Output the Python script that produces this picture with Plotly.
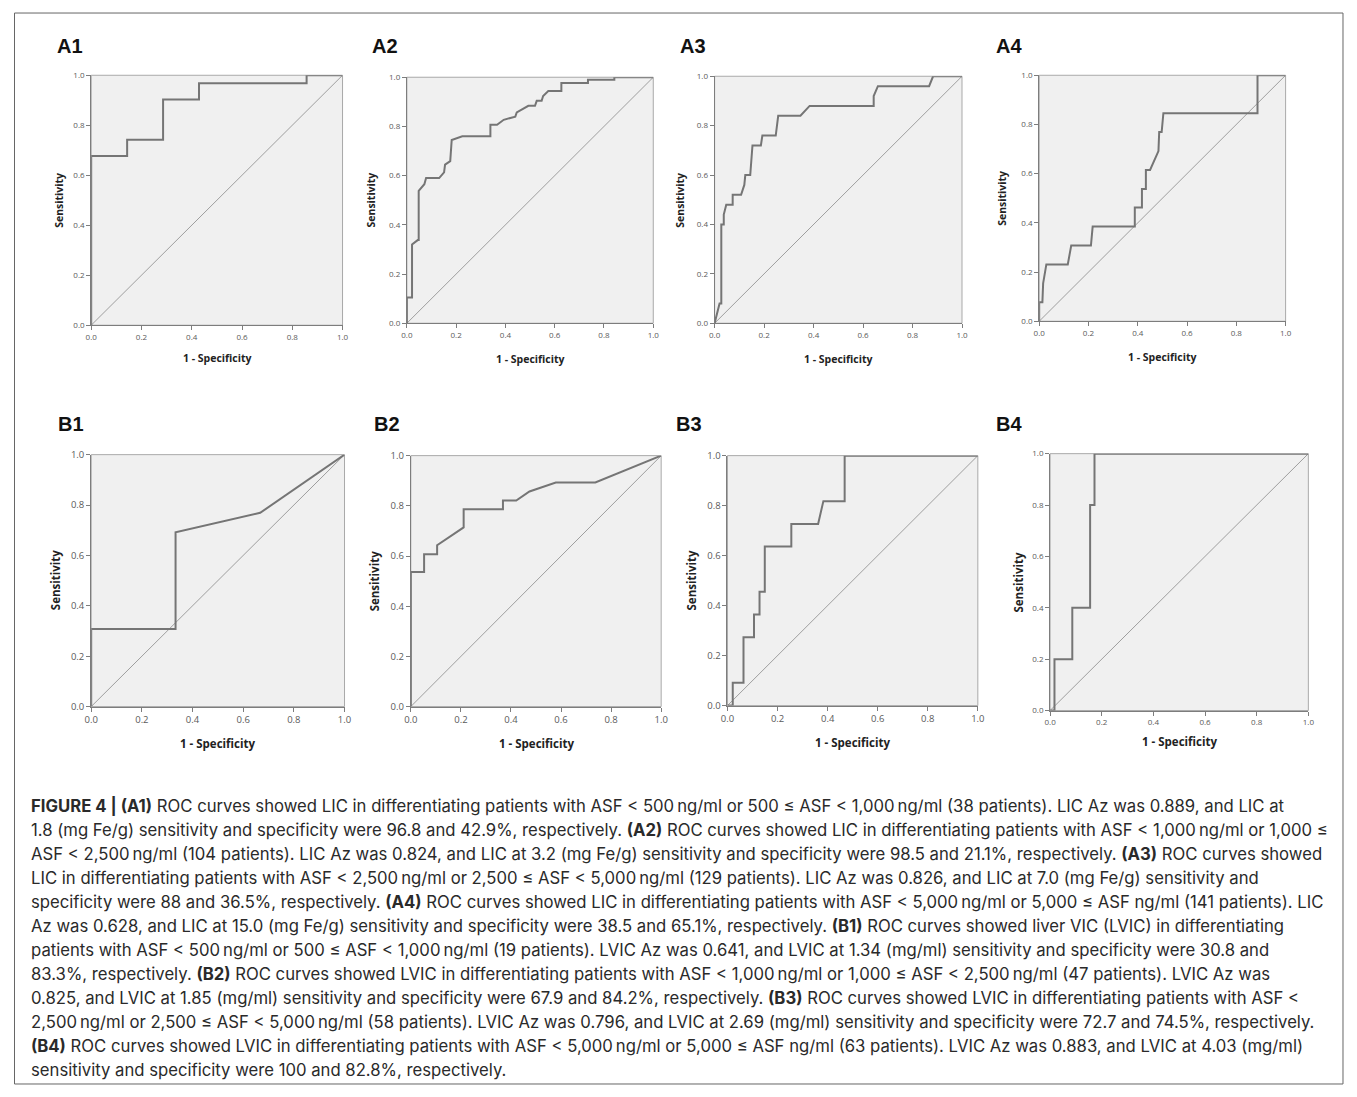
import plotly.graph_objects as go

PAGE_W, PAGE_H = 1357, 1097
BODY_MARGIN = 8
W, H = PAGE_W - 2 * BODY_MARGIN, PAGE_H - 2 * BODY_MARGIN

# ---------------- data ----------------
panel_names = ["A1", "A2", "A3", "A4", "B1", "B2", "B3", "B4"]

A1_fpr = [0, 0, 0.143, 0.143, 0.286, 0.286, 0.429, 0.429, 0.857, 0.857, 1.0]
A1_tpr = [0, 0.677, 0.677, 0.742, 0.742, 0.903, 0.903, 0.968, 0.968, 1.0, 1.0]

A2_fpr = [0, 0, 0.021, 0.021, 0.044, 0.048, 0.048, 0.071, 0.078, 0.131, 0.151, 0.155,
          0.176, 0.182, 0.225, 0.339, 0.339, 0.366, 0.393, 0.44, 0.446, 0.493, 0.52,
          0.527, 0.547, 0.553, 0.574, 0.627, 0.627, 0.735, 0.735, 0.842, 0.842, 1.0]
A2_tpr = [0, 0.105, 0.105, 0.32, 0.338, 0.338, 0.538, 0.565, 0.59, 0.59, 0.613, 0.645,
          0.659, 0.745, 0.76, 0.76, 0.807, 0.807, 0.827, 0.84, 0.857, 0.884, 0.884,
          0.904, 0.904, 0.924, 0.944, 0.944, 0.977, 0.977, 0.99, 0.99, 1.0, 1.0]

A3_fpr = [0, 0.013, 0.02, 0.027, 0.027, 0.037, 0.037, 0.047, 0.073, 0.073, 0.107, 0.12,
          0.124, 0.144, 0.148, 0.153, 0.187, 0.193, 0.247, 0.257, 0.347, 0.384, 0.643,
          0.643, 0.66, 0.867, 0.883, 1.0]
A3_tpr = [0, 0.06, 0.08, 0.08, 0.4, 0.4, 0.44, 0.48, 0.48, 0.52, 0.52, 0.56,
          0.6, 0.6, 0.66, 0.72, 0.72, 0.76, 0.76, 0.84, 0.84, 0.88, 0.88,
          0.92, 0.96, 0.96, 1.0, 1.0]

A4_fpr = [0, 0, 0.013, 0.016, 0.029, 0.116, 0.13, 0.21, 0.217, 0.388, 0.388, 0.417,
          0.417, 0.433, 0.433, 0.45, 0.484, 0.487, 0.497, 0.504, 0.886, 0.886, 1.0]
A4_tpr = [0, 0.077, 0.077, 0.154, 0.231, 0.231, 0.308, 0.308, 0.385, 0.385, 0.462, 0.462,
          0.538, 0.538, 0.615, 0.615, 0.692, 0.769, 0.769, 0.846, 0.846, 1.0, 1.0]

B1_fpr = [0, 0, 0.333, 0.333, 0.667, 1.0]
B1_tpr = [0, 0.308, 0.308, 0.692, 0.769, 1.0]

B2_fpr = [0, 0, 0.053, 0.053, 0.105, 0.105, 0.211, 0.211, 0.368, 0.368, 0.421, 0.474,
          0.579, 0.737, 1.0]
B2_tpr = [0, 0.536, 0.536, 0.607, 0.607, 0.643, 0.714, 0.786, 0.786, 0.821, 0.821, 0.857,
          0.893, 0.893, 1.0]

B3_fpr = [0, 0.021, 0.021, 0.064, 0.064, 0.106, 0.106, 0.128, 0.128, 0.149, 0.149, 0.255,
          0.255, 0.362, 0.383, 0.468, 0.468, 1.0]
B3_tpr = [0, 0.0, 0.091, 0.091, 0.273, 0.273, 0.364, 0.364, 0.455, 0.455, 0.636, 0.636,
          0.727, 0.727, 0.818, 0.818, 1.0, 1.0]

B4_fpr = [0, 0.017, 0.017, 0.086, 0.086, 0.155, 0.155, 0.172, 0.172, 1.0]
B4_tpr = [0, 0.0, 0.2, 0.2, 0.4, 0.4, 0.8, 0.8, 1.0, 1.0]

curves_fpr = [A1_fpr, A2_fpr, A3_fpr, A4_fpr, B1_fpr, B2_fpr, B3_fpr, B4_fpr]
curves_tpr = [A1_tpr, A2_tpr, A3_tpr, A4_tpr, B1_tpr, B2_tpr, B3_tpr, B4_tpr]

tick_vals = [0.0, 0.2, 0.4, 0.6, 0.8, 1.0]
tick_text = ["0.0", "0.2", "0.4", "0.6", "0.8", "1.0"]
y_title = "Sensitivity"
x_title = "1 - Specificity"

caption_lines = [
    "<b>FIGURE 4 | (A1)</b> ROC curves showed LIC in differentiating patients with ASF &lt; 500\u2009ng/ml or 500 \u2264 ASF &lt; 1,000\u2009ng/ml (38 patients). LIC Az was 0.889, and LIC at",
    "1.8 (mg Fe/g) sensitivity and specificity were 96.8 and 42.9%, respectively. <b>(A2)</b> ROC curves showed LIC in differentiating patients with ASF &lt; 1,000\u2009ng/ml or 1,000 \u2264",
    "ASF &lt; 2,500\u2009ng/ml (104 patients). LIC Az was 0.824, and LIC at 3.2 (mg Fe/g) sensitivity and specificity were 98.5 and 21.1%, respectively. <b>(A3)</b> ROC curves showed",
    "LIC in differentiating patients with ASF &lt; 2,500\u2009ng/ml or 2,500 \u2264 ASF &lt; 5,000\u2009ng/ml (129 patients). LIC Az was 0.826, and LIC at 7.0 (mg Fe/g) sensitivity and",
    "specificity were 88 and 36.5%, respectively. <b>(A4)</b> ROC curves showed LIC in differentiating patients with ASF &lt; 5,000\u2009ng/ml or 5,000 \u2264 ASF ng/ml (141 patients). LIC",
    "Az was 0.628, and LIC at 15.0 (mg Fe/g) sensitivity and specificity were 38.5 and 65.1%, respectively. <b>(B1)</b> ROC curves showed liver VIC (LVIC) in differentiating",
    "patients with ASF &lt; 500\u2009ng/ml or 500 \u2264 ASF &lt; 1,000\u2009ng/ml (19 patients). LVIC Az was 0.641, and LVIC at 1.34 (mg/ml) sensitivity and specificity were 30.8 and",
    "83.3%, respectively. <b>(B2)</b> ROC curves showed LVIC in differentiating patients with ASF &lt; 1,000\u2009ng/ml or 1,000 \u2264 ASF &lt; 2,500\u2009ng/ml (47 patients). LVIC Az was",
    "0.825, and LVIC at 1.85 (mg/ml) sensitivity and specificity were 67.9 and 84.2%, respectively. <b>(B3)</b> ROC curves showed LVIC in differentiating patients with ASF &lt;",
    "2,500\u2009ng/ml or 2,500 \u2264 ASF &lt; 5,000\u2009ng/ml (58 patients). LVIC Az was 0.796, and LVIC at 2.69 (mg/ml) sensitivity and specificity were 72.7 and 74.5%, respectively.",
    "<b>(B4)</b> ROC curves showed LVIC in differentiating patients with ASF &lt; 5,000\u2009ng/ml or 5,000 \u2264 ASF ng/ml (63 patients). LVIC Az was 0.883, and LVIC at 4.03 (mg/ml)",
    "sensitivity and specificity were 100 and 82.8%, respectively.",
]

# ---------------- layout geometry (page pixels) ----------------
boxes = [  # left, top, right, bottom of each plot area
    (85, 69, 339, 322), (404, 71, 653, 320), (715, 70, 965, 320), (1043, 69, 1292, 318),
    (85, 453, 341, 708), (408, 454, 661, 708), (728, 454, 981, 707), (1054, 452, 1315, 712),
]
label_pos = [(48, 39), (367, 39), (678, 39), (997, 39), (49, 422), (369, 422), (674, 422), (997, 422)]
ytitle_x = [53, 368, 680, 1006, 49, 371, 692, 1022]
xtitle_y = [355, 356, 356, 354, 745, 745, 744, 743]
tick_sizes = [8, 8, 8, 8, 9.5, 9.5, 9.5, 8]


def px_x(p):
    return (p - BODY_MARGIN) / W


def px_y(p):
    return 1 - (p - BODY_MARGIN) / H


CURVE = "#757575"
DIAG = "#9e9e9e"
BG = "#f0f0f0"
FRAME = "#a9a9a9"
AXIS = "#7d7d7d"

fig = go.Figure()
annotations = []
shapes = []

for i, name in enumerate(panel_names):
    l, t, r, b = boxes[i]
    k = "" if i == 0 else str(i + 1)
    xa, ya = "x" + k, "y" + k
    fig.add_trace(go.Scatter(x=[0, 1], y=[0, 1], mode="lines", xaxis=xa, yaxis=ya,
                             line=dict(color=DIAG, width=1), showlegend=False, hoverinfo="skip"))
    fig.add_trace(go.Scatter(x=curves_fpr[i], y=curves_tpr[i], mode="lines", xaxis=xa, yaxis=ya,
                             line=dict(color=CURVE, width=2), showlegend=False))
    tf = dict(family="Open Sans, Liberation Sans, sans-serif", size=tick_sizes[i], color="#5a5a5a")
    common = dict(range=[0, 1], showgrid=False, zeroline=False, showline=True, linecolor=AXIS,
                  linewidth=1, ticks="outside", ticklen=4, tickcolor=AXIS, tickwidth=1,
                  tickvals=tick_vals, ticktext=tick_text, tickfont=tf, fixedrange=True)
    fig.layout["xaxis" + k] = dict(domain=[px_x(l), px_x(r)], anchor=ya, **common)
    fig.layout["yaxis" + k] = dict(domain=[px_y(b), px_y(t)], anchor=xa, **common)
    shapes.append(dict(type="rect", xref="paper", yref="paper", x0=px_x(l), x1=px_x(r),
                       y0=px_y(b), y1=px_y(t), fillcolor=BG, line=dict(color=FRAME, width=1),
                       layer="below"))
    lx, ly = label_pos[i]
    annotations.append(dict(text="<b>%s</b>" % name, x=px_x(lx), y=px_y(ly), xref="paper",
                            yref="paper", xanchor="left", yanchor="middle", showarrow=False,
                            font=dict(family="Liberation Sans, Arial, sans-serif", size=20,
                                      color="#111111")))
    title_size = 10.5 if i < 4 else 11.5
    annotations.append(dict(text="<b>%s</b>" % y_title, x=px_x(ytitle_x[i]),
                            y=px_y((t + b) / 2), xref="paper", yref="paper", textangle=-90,
                            xanchor="center", yanchor="middle", showarrow=False,
                            font=dict(family="Open Sans, sans-serif", size=title_size,
                                      color="#222222")))
    annotations.append(dict(text="<b>%s</b>" % x_title, x=px_x((l + r) / 2),
                            y=px_y(xtitle_y[i]), xref="paper", yref="paper",
                            xanchor="center", yanchor="middle", showarrow=False,
                            font=dict(family="Open Sans, sans-serif", size=title_size,
                                      color="#222222")))

# caption
cap_y0, cap_dy = 809, 24.3
for j, line in enumerate(caption_lines):
    annotations.append(dict(text=line, x=px_x(22), y=px_y(cap_y0 + j * cap_dy), xref="paper",
                            yref="paper", xanchor="left", yanchor="middle", showarrow=False,
                            font=dict(family="Inter, Liberation Sans, sans-serif", size=16.7,
                                      color="#2a2a2a")))

# outer border
shapes.append(dict(type="rect", xref="paper", yref="paper", x0=px_x(7.5), x1=px_x(1350),
                   y0=px_y(1090), y1=px_y(6), line=dict(color="#666666", width=1),
                   fillcolor="rgba(0,0,0,0)", layer="below"))

fig.update_layout(width=W, height=H, margin=dict(l=0, r=0, t=0, b=0),
                  paper_bgcolor="white", plot_bgcolor="rgba(0,0,0,0)",
                  annotations=annotations, shapes=shapes, showlegend=False)

fig.write_html("out.html", include_plotlyjs=True, config={"displayModeBar": False})
